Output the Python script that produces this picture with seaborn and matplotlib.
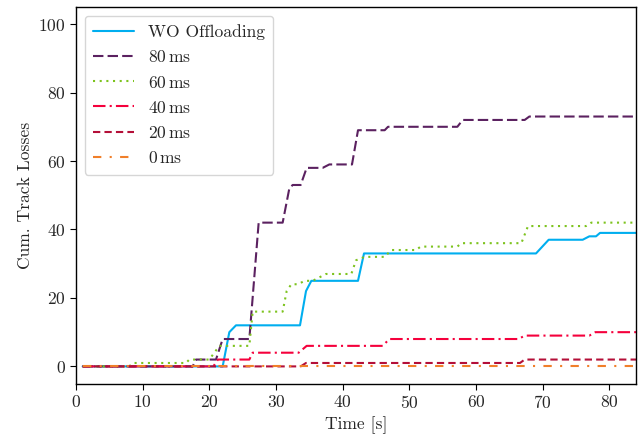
import matplotlib
matplotlib.use("Agg")
import matplotlib.pyplot as plt
import seaborn as sns
import pandas as pd

# Breakpoints (time [s], cumulative track losses)
wo_t = [1, 22, 23, 24, 33.6, 34.5, 35.3, 42.3, 43.2, 69, 70.9, 76, 77, 78, 78.6, 84]
wo_y = [0, 0, 10, 12, 12, 22, 25, 25, 33, 33, 37, 37, 38, 38, 39, 39]

ms80_t = [1, 17.5, 18, 21, 22, 26, 27.4, 31, 32, 32.5, 33.7, 34.6, 37, 38, 41.4, 42.3,
          46.3, 46.8, 57.2, 58, 67.3, 68, 84]
ms80_y = [0, 0, 2, 2, 8, 8, 42, 42, 52, 53, 53, 58, 58, 59, 59, 69,
          69, 70, 70, 72, 72, 73, 73]

ms60_t = [1, 8, 8.5, 16.5, 17, 20, 21.5, 26, 26.5, 31, 31.6, 32.3, 33.3, 34.3, 35.5,
          36.5, 37.5, 41.3, 42, 43.3, 46.3, 47.3, 51, 51.7, 57.2, 57.8, 66.8, 67.8,
          76.5, 77.3, 84]
ms60_y = [0, 0, 1, 1, 2, 2, 6, 6, 16, 16, 22, 24, 24, 25, 25,
          26, 27, 27, 31, 32, 32, 34, 34, 35, 35, 36, 36, 41,
          41, 42, 42]

ms40_t = [1, 20.6, 21.3, 26, 26.5, 33.4, 34.6, 46, 47, 66.4, 67.3, 77, 77.9, 84]
ms40_y = [0, 0, 2, 2, 4, 4, 6, 6, 8, 8, 9, 9, 10, 10]

ms20_t = [1, 33.7, 34.5, 66.6, 67.3, 84]
ms20_y = [0, 0, 1, 1, 2, 2]

ms0_t = [1, 84]
ms0_y = [0, 0]

labels = ["WO Offloading", r"80$\,$ms", r"60$\,$ms", r"40$\,$ms", r"20$\,$ms", r"0$\,$ms"]
series = [(wo_t, wo_y), (ms80_t, ms80_y), (ms60_t, ms60_y),
          (ms40_t, ms40_y), (ms20_t, ms20_y), (ms0_t, ms0_y)]

rows = []
for lab, (t, y) in zip(labels, series):
    for ti, yi in zip(t, y):
        rows.append({"Time": ti, "Losses": yi, "Series": lab})
df = pd.DataFrame(rows)

sns.set_theme(style="ticks")
plt.rcParams["font.family"] = "serif"
plt.rcParams["font.serif"] = ["cmr10"]
plt.rcParams["mathtext.fontset"] = "cm"
plt.rcParams["axes.formatter.use_mathtext"] = True

colors = ["#00aeef", "#5b2160", "#7dc31e", "#f5003c", "#b40f38", "#f07f2a"]
dashes = [(), (5, 2), (1, 2.2), (6, 2, 1, 2), (3.5, 2), (4, 4, 1, 4)]

FS = 12.6

fig = plt.figure(figsize=(6.44, 4.37), dpi=100)
ax = fig.add_axes([0.118, 0.1224, 0.8696, 0.8616])

sns.lineplot(data=df, x="Time", y="Losses", hue="Series", style="Series",
             hue_order=labels, style_order=labels,
             palette=colors, dashes=dashes, linewidth=1.5, ax=ax, sort=False,
             estimator=None)

ax.set_xlim(0, 84)
ax.set_ylim(-5, 105)
ax.set_xticks(range(0, 81, 10))
ax.set_yticks(range(0, 101, 20))
ax.set_xlabel("Time [s]", fontsize=FS)
ax.set_ylabel("Cum. Track Losses", fontsize=FS)
ax.tick_params(labelsize=FS, direction="out", length=4, width=0.8, color="black")
for s in ax.spines.values():
    s.set_visible(True)
    s.set_color("black")
    s.set_linewidth(1.0)

leg = ax.legend(loc="upper left", fontsize=FS, frameon=True, fancybox=True,
                handlelength=2.3, handletextpad=0.8, borderpad=0.5,
                labelspacing=0.52)
leg.get_frame().set_edgecolor("#cccccc")
leg.get_frame().set_linewidth(1.0)

fig.savefig("out.png", dpi=100)
